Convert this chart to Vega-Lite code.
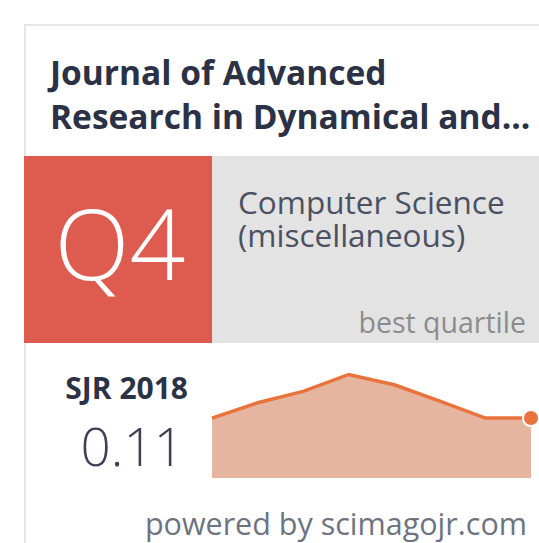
{
  "$schema": "https://vega.github.io/schema/vega-lite/v6.json",
  "width": 539,
  "height": 543,
  "padding": 0,
  "autosize": "none",
  "background": "#ffffff",
  "config": {"view": {"stroke": null}, "text": {"font": "Open Sans"}},
  "data": {"values": [
    {"year": 2011, "sjr": 0.110},
    {"year": 2012, "sjr": 0.138},
    {"year": 2013, "sjr": 0.159},
    {"year": 2014, "sjr": 0.190},
    {"year": 2015, "sjr": 0.171},
    {"year": 2016, "sjr": 0.141},
    {"year": 2017, "sjr": 0.110},
    {"year": 2018, "sjr": 0.110}
  ]},
  "layer": [
    {
      "data": {"values": [{}]},
      "mark": {"type": "rect", "fill": "#ffffff", "stroke": "#e6e6e6", "strokeWidth": 2},
      "encoding": {"x": {"value": 25}, "x2": {"value": 700}, "y": {"value": 25}, "y2": {"value": 700}}
    },
    {
      "data": {"values": [{}]},
      "mark": {"type": "rect", "fill": "#dd5b4f"},
      "encoding": {"x": {"value": 24}, "x2": {"value": 212}, "y": {"value": 156}, "y2": {"value": 343}}
    },
    {
      "data": {"values": [{}]},
      "mark": {"type": "rect", "fill": "#e3e3e3"},
      "encoding": {"x": {"value": 212}, "x2": {"value": 700}, "y": {"value": 156}, "y2": {"value": 343}}
    },
    {
      "data": {"values": [{}]},
      "mark": {"type": "text", "text": ["Journal of Advanced", "Research in Dynamical and..."], "fontSize": 33.5, "fontWeight": "bold", "color": "#2b3245", "align": "left", "baseline": "alphabetic", "lineHeight": 44},
      "encoding": {"x": {"value": 50}, "y": {"value": 85}}
    },
    {
      "data": {"values": [{}]},
      "mark": {"type": "text", "text": "Q4", "fontSize": 98, "fontWeight": 300, "color": "#ffffff", "align": "center", "baseline": "alphabetic"},
      "encoding": {"x": {"value": 120}, "y": {"value": 280}}
    },
    {
      "data": {"values": [{}]},
      "mark": {"type": "text", "text": "Computer Science", "fontSize": 31.5, "color": "#4b5162", "align": "left", "baseline": "alphabetic"},
      "encoding": {"x": {"value": 238}, "y": {"value": 214}}
    },
    {
      "data": {"values": [{}]},
      "mark": {"type": "text", "text": "(miscellaneous)", "fontSize": 31.5, "color": "#4b5162", "align": "left", "baseline": "alphabetic"},
      "encoding": {"x": {"value": 238}, "y": {"value": 247}}
    },
    {
      "data": {"values": [{}]},
      "mark": {"type": "text", "text": "best quartile", "fontSize": 28.5, "color": "#8c8c8c", "align": "right", "baseline": "alphabetic"},
      "encoding": {"x": {"value": 526}, "y": {"value": 333}}
    },
    {
      "data": {"values": [{}]},
      "mark": {"type": "text", "text": "SJR 2018", "fontSize": 30, "fontWeight": "bold", "color": "#2b3245", "align": "right", "baseline": "alphabetic"},
      "encoding": {"x": {"value": 188}, "y": {"value": 399}}
    },
    {
      "data": {"values": [{}]},
      "mark": {"type": "text", "text": "0.11", "fontSize": 53, "fontWeight": 300, "color": "#3c4254", "align": "right", "baseline": "alphabetic"},
      "encoding": {"x": {"value": 184}, "y": {"value": 466}}
    },
    {
      "data": {"values": [{}]},
      "mark": {"type": "text", "text": "powered by scimagojr.com", "fontSize": 30.5, "color": "#6e7380", "align": "right", "baseline": "alphabetic"},
      "encoding": {"x": {"value": 527}, "y": {"value": 535}}
    },
    {
      "mark": {"type": "area", "color": "#e6b5a0", "interpolate": "linear"},
      "encoding": {
        "x": {"field": "year", "type": "quantitative", "scale": {"domain": [2011, 2018], "range": [212, 531]}, "axis": null},
        "y": {"field": "sjr", "type": "quantitative", "scale": {"domain": [0, 0.19], "range": [478, 369], "zero": true}, "axis": null}
      }
    },
    {
      "mark": {"type": "line", "color": "#e8733c", "strokeWidth": 3.5, "interpolate": "linear"},
      "encoding": {
        "x": {"field": "year", "type": "quantitative"},
        "y": {"field": "sjr", "type": "quantitative"}
      }
    },
    {
      "transform": [{"filter": "datum.year == 2018"}],
      "mark": {"type": "point", "filled": true, "fill": "#e8733c", "stroke": "#ffffff", "strokeWidth": 2, "size": 260, "opacity": 1},
      "encoding": {
        "x": {"field": "year", "type": "quantitative"},
        "y": {"field": "sjr", "type": "quantitative"}
      }
    }
  ]
}
